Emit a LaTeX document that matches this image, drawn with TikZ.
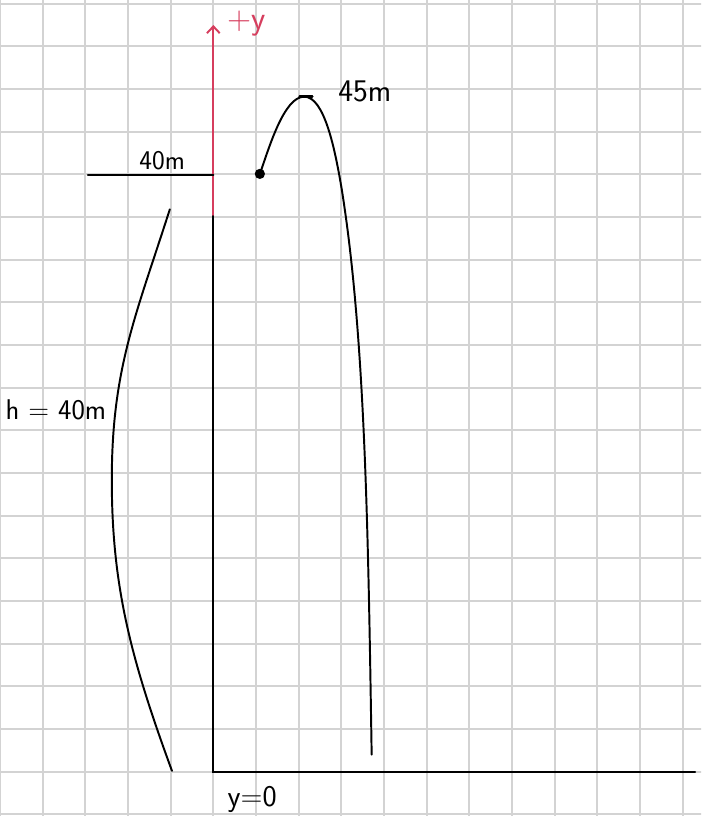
\documentclass[tikz,border=0pt]{standalone}
\usetikzlibrary{arrows.meta,positioning}
\definecolor{gc}{RGB}{211,211,211}
\definecolor{ac}{RGB}{214,62,94}
\newcommand\fs[1]{\fontsize{#1}{#1}\selectfont}
\tikzset{gridln/.style={draw=gc,line width=1.2pt},
 ln/.style={line width=1.3pt,line cap=round},
 ax/.style={ln,draw=ac,-{Straight Barb[length=1.6mm,width=3mm]}},
 dot/.style={circle,fill,inner sep=0pt,minimum size=2.4mm},
 every node/.style={font=\sffamily,inner sep=1pt}}
\begin{document}
\begin{tikzpicture}[x=1cm,y=1cm]
\useasboundingbox (-5,-1.038) rectangle (11.43,18.085);
\begin{scope}
\clip (-5,-1.038) rectangle (11.43,18.085);
\draw[gridln] (-5,-2) grid (12,19);
\end{scope}
% axes
\coordinate (o) at (0,0);
\coordinate (xe) at (11.29,0);
\coordinate (ys) at (0,13.05);
\coordinate (yt) at (0,17.5);
\draw[ln] (ys)--(o)--(xe);
\draw[ax] (ys)--(yt);
\node[text=ac,font=\sffamily\fs{22pt},anchor=base] (ly) at (0.78,17.4) {+y};
\node[font=\sffamily\fs{20pt}] (l0) at (0.91,-0.66) {y=0};
% height
\coordinate (hs) at (-2.94,13.98);
\coordinate (he) at (0,13.98);
\draw[ln] (hs)--(he);
\node[font=\sffamily\fs{18pt}] (l40) at (-1.2,14.33) {40m};
\coordinate (ht) at (-1.02,13.18);
\coordinate (hm) at (-2.38,6.84);
\coordinate (hb) at (-0.97,0.02);
\draw[ln] (ht) .. controls (-1.82,10.68) and (-2.38,9.44) .. (hm)
 .. controls (-2.38,4.34) and (-1.93,2.64) .. (hb);
\node[font=\sffamily\fs{19pt}] (lh) at (-3.69,8.48) {h = 40m};
% path of the ball
\node[dot] (b) at (1.09,14.01) {};
\coordinate (pk) at (2.13,15.82);
\coordinate (m1) at (3.01,13.64);
\coordinate (be) at (3.71,0.4);
\draw[ln] (b.center) .. controls (1.3,14.6) and (1.65,15.82) .. (pk)
 .. controls (2.6,15.82) and (2.85,14.6) .. (m1)
 .. controls (3.57,10.14) and (3.63,5.4) .. (be);
\draw[ln,line width=1.6pt] ([xshift=-1.1mm]pk)--([xshift=1.9mm]pk);
\node[font=\sffamily\fs{21pt}] (l45) at (3.55,15.95) {45m};
\end{tikzpicture}
\end{document}
